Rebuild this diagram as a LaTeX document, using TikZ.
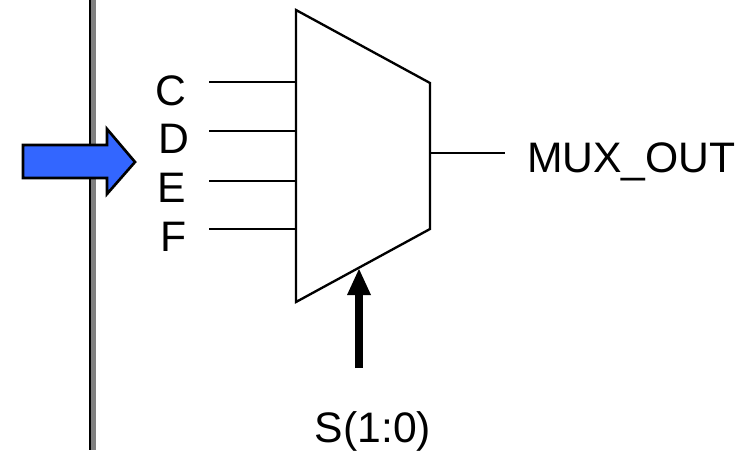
\documentclass[tikz,border=0pt]{standalone}
\usepackage{fontspec}
\setmainfont{Liberation Sans}
\tikzset{every picture/.style={line width=1.75pt}}
\tikzset{
  sig/.style={anchor=base,inner sep=0.75pt,font=\fontsize{32}{38}\selectfont},
  wire/.style={draw=black,line width=1.75pt},
}
\definecolor{arrowblue}{rgb}{0.2,0.4,1}
\definecolor{railgray}{rgb}{0.5,0.5,0.5}

\begin{document}
\begin{tikzpicture}[x=0.75pt,y=0.75pt,yscale=-1,xscale=1]
\useasboundingbox (0,0) rectangle (745,450);

%Shape: Rail
\fill [railgray] (91,0) rectangle (96,450);
\fill [black] (88.7,0) rectangle (91.3,450);

%Shape: Block arrow
\draw [fill=arrowblue,line width=2pt,miter limit=10] (23,145) -- (107,145) -- (107,129) -- (135,162) -- (107,194) -- (107,178) -- (23,178) -- cycle ;

%Shape: Mux
\draw [line join=miter] (296,10) -- (430,83) -- (430,229) -- (296,302) -- cycle ;
\coordinate (muxC) at (296,82);
\coordinate (muxD) at (296,131);
\coordinate (muxE) at (296,181);
\coordinate (muxF) at (296,229);
\coordinate (muxOut) at (430,153);
\coordinate (muxSel) at (359,269);

% Free ends
\coordinate (inC) at (209,82);
\coordinate (inD) at (209,131);
\coordinate (inE) at (209,181);
\coordinate (inF) at (209,229);
\coordinate (outEnd) at (505,153);
\coordinate (selEnd) at (359,368);

%Straight Lines
\draw [wire] (inC) -- (muxC);
\draw [wire] (inD) -- (muxD);
\draw [wire] (inE) -- (muxE);
\draw [wire] (inF) -- (muxF);
\draw [wire] (muxOut) -- (outEnd);
\draw [line width=6pt] (selEnd) -- (359,294);
\fill (muxSel) -- (371,295) -- (347,295) -- cycle ;

% Text Node
\node [sig] (lblC) at (170.5,105) {C};
% Text Node
\node [sig] (lblD) at (173.5,153) {D};
% Text Node
\node [sig] (lblE) at (172,202) {E};
% Text Node
\node [sig] (lblF) at (174,251) {F};
% Text Node
\node [sig,anchor=base west] (lblOut) at (525,172.5) {MUX\_OUT};
% Text Node
\node [sig] (lblSel) at (373,442) {S(1:0)};

\end{tikzpicture}
\end{document}
